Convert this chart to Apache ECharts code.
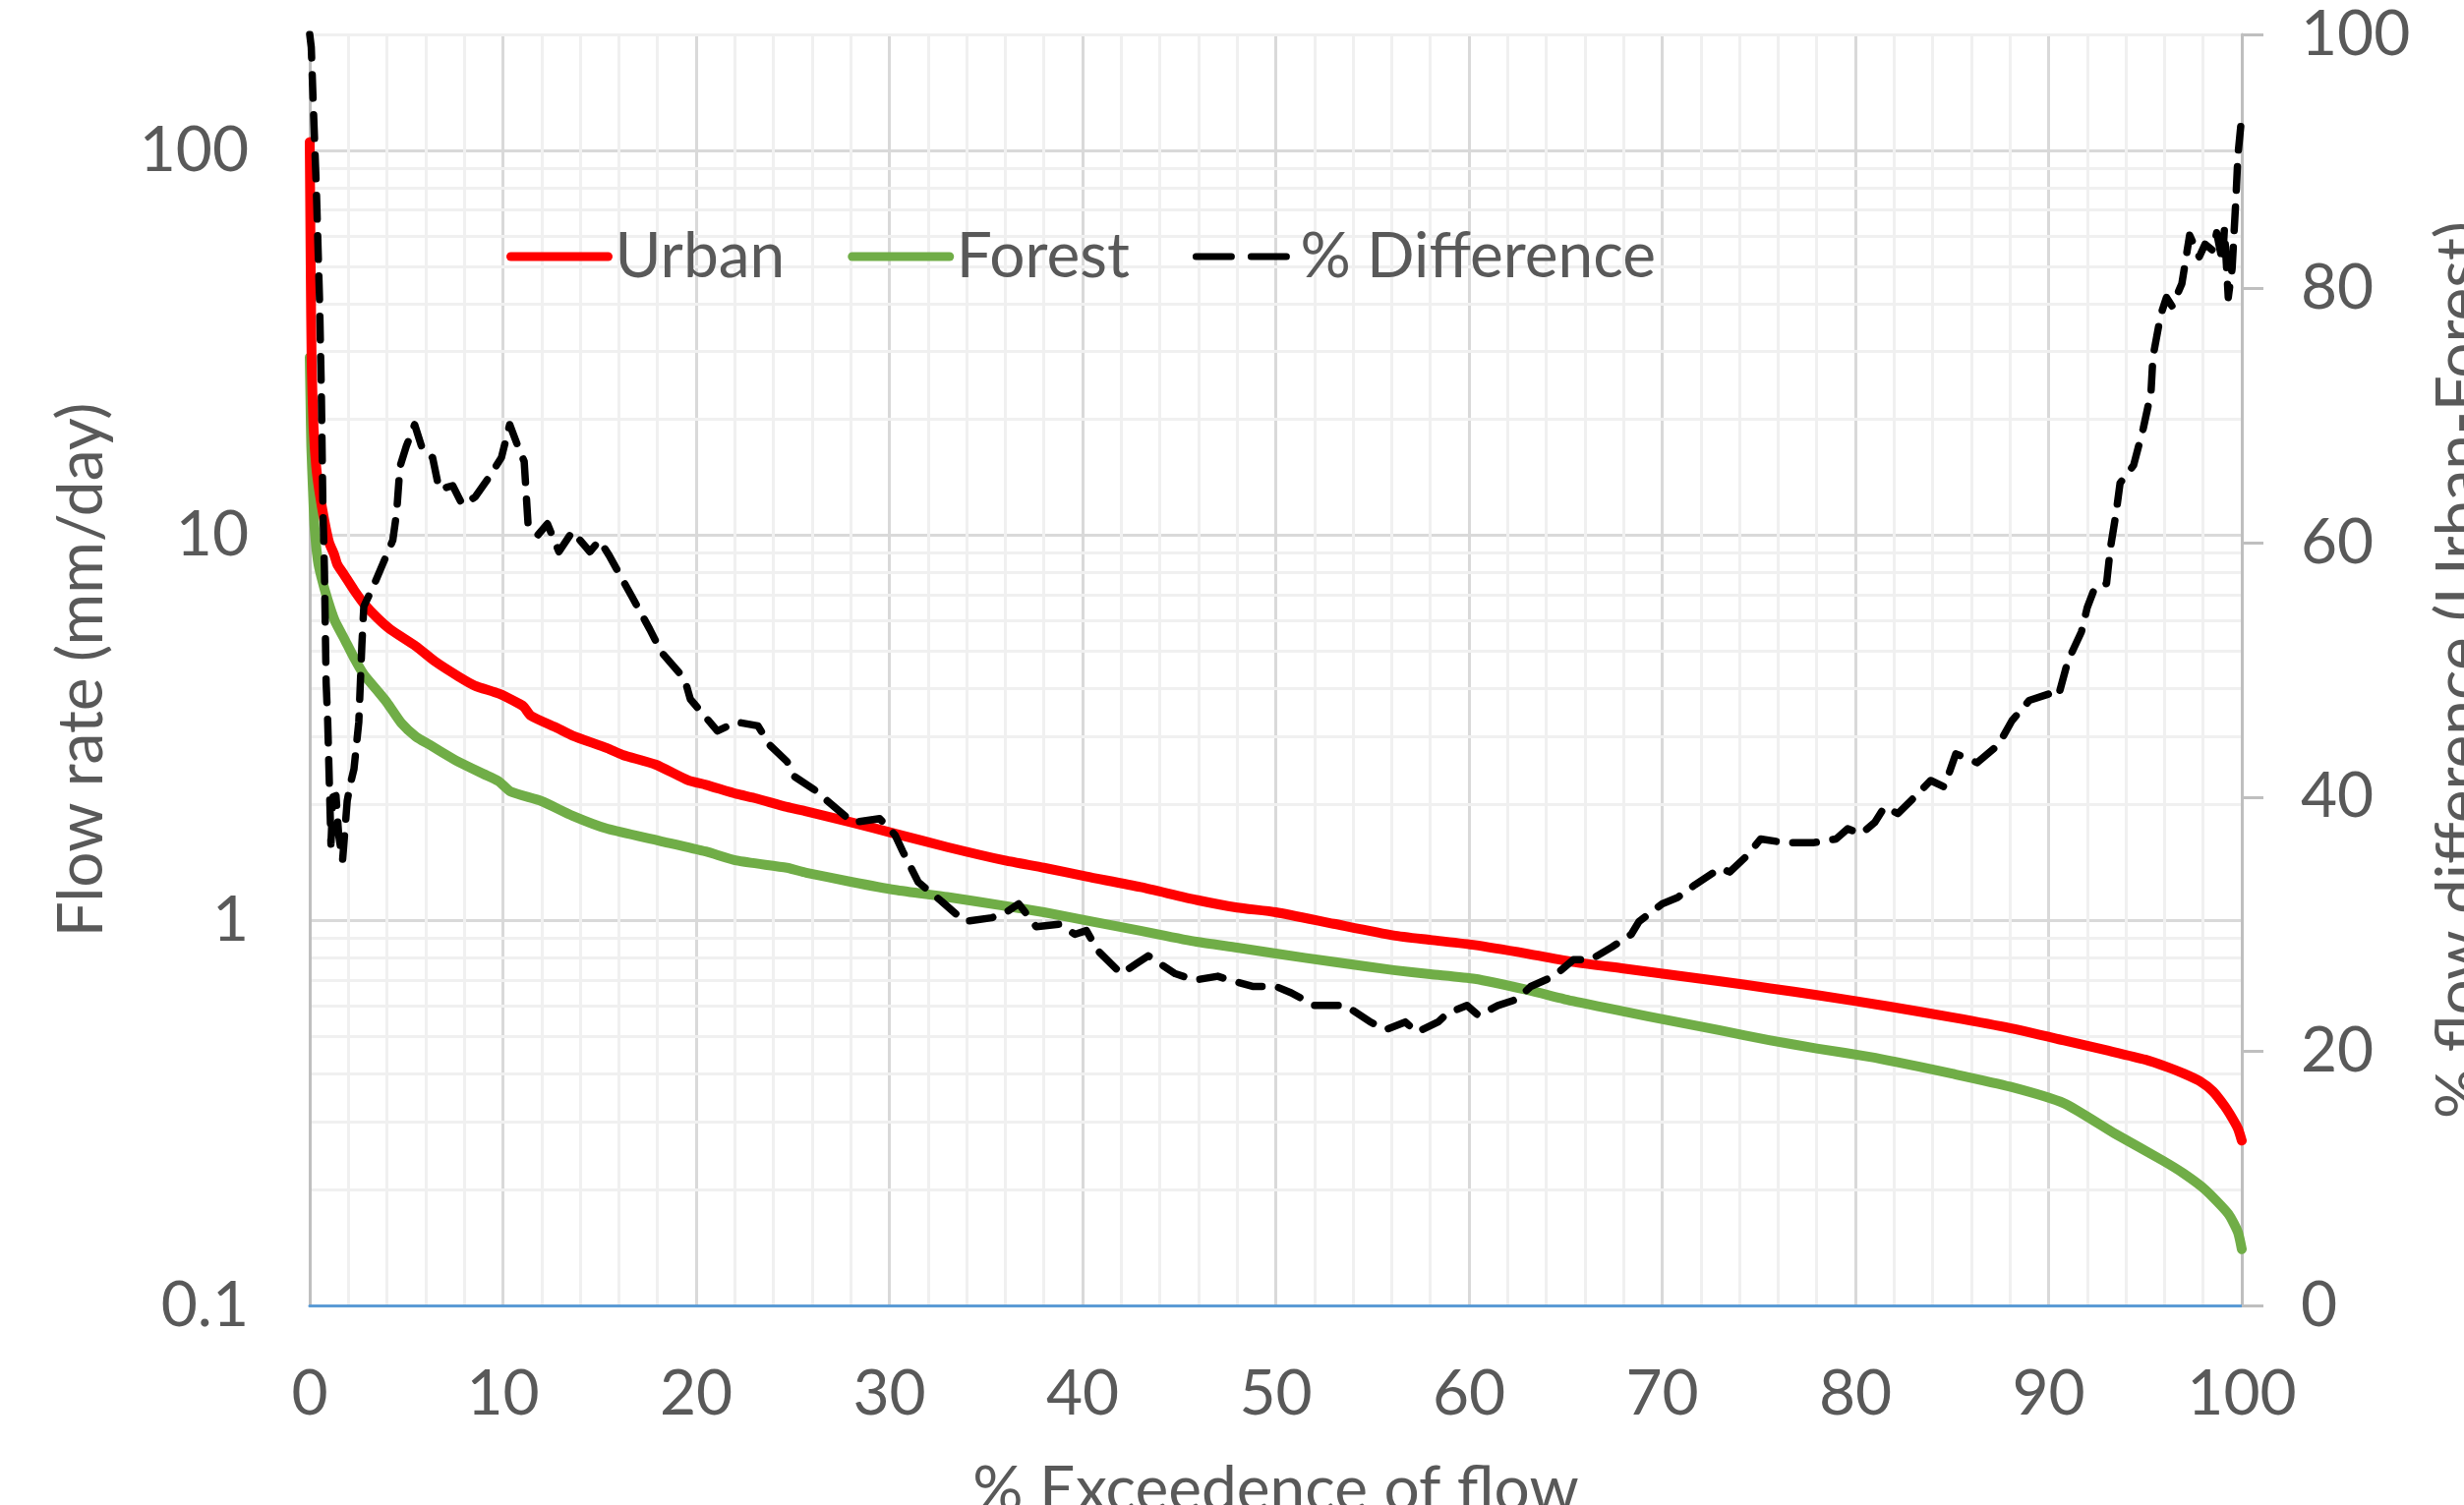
<!DOCTYPE html>
<html>
<head>
<meta charset="utf-8">
<script src="https://cdn.jsdelivr.net/npm/echarts@6/dist/echarts.min.js"></script>
<style>
  html, body { margin: 0; padding: 0; background: #ffffff; }
  #chart { width: 2506px; height: 1531px; }
</style>
</head>
<body>
<div id="chart"></div>
<script>
// ---------- data ----------
const seriesNames = ['Urban', 'Forest', '% Difference'];

// [% exceedence, flow mm/day]
const urban = [
  [0, 105], [0.05, 50], [0.1, 28], [0.2, 19], [0.34, 15], [0.5, 13], [0.76, 10.9], [1.0, 9.6],
  [1.27, 8.9], [1.43, 8.4], [1.78, 7.9], [2.3, 7.2], [2.8, 6.65], [3.5, 6.1], [4.17, 5.7],
  [5.5, 5.15], [6.5, 4.7], [7.7, 4.3], [8.55, 4.07], [9.8, 3.88], [10.9, 3.64], [11.1, 3.58],
  [11.45, 3.4], [12.8, 3.16], [13.6, 3.02], [15.4, 2.8], [16.2, 2.69], [17.9, 2.54], [19.6, 2.31],
  [20.5, 2.25], [22.1, 2.13], [23, 2.08], [24.7, 1.97], [25.7, 1.92], [28, 1.8], [30.3, 1.68],
  [33, 1.55], [36, 1.43], [38, 1.37], [40.2, 1.3], [43, 1.22], [45.9, 1.13], [48, 1.08], [50, 1.05],
  [53, 0.98], [56.1, 0.914], [58, 0.89], [60.3, 0.863], [63, 0.82], [65.4, 0.78], [68, 0.75],
  [70.5, 0.722], [73, 0.695], [75.6, 0.666], [78, 0.64], [81.7, 0.598], [85, 0.56], [88, 0.525],
  [90.8, 0.488], [93, 0.46], [95, 0.435], [96.2, 0.415], [97, 0.4], [97.8, 0.383], [98.5, 0.36],
  [99.1, 0.33], [99.5, 0.307], [99.8, 0.288], [100, 0.268]
];

const forest = [
  [0, 29], [0.04, 22], [0.08, 17], [0.17, 13], [0.25, 10.5], [0.42, 8.6], [0.6, 7.8], [0.93, 6.8],
  [1.3, 6.0], [1.78, 5.4], [2.3, 4.8], [2.8, 4.35], [3.5, 3.95], [4.0, 3.68], [4.75, 3.25],
  [5.5, 3.0], [6.2, 2.86], [7.4, 2.63], [7.7, 2.58], [9.0, 2.4], [9.77, 2.3], [10.4, 2.16],
  [12.0, 2.04], [13.6, 1.87], [15.4, 1.73], [18.1, 1.61], [20.5, 1.51], [22.1, 1.43], [24.7, 1.37],
  [25.7, 1.33], [28, 1.26], [30.3, 1.2], [33, 1.15], [36, 1.09], [38, 1.05], [40.2, 1.0], [43, 0.94],
  [45.9, 0.88], [48, 0.85], [50, 0.82], [53, 0.78], [56.1, 0.743], [58, 0.725], [60.3, 0.705],
  [63, 0.66], [65.4, 0.617], [68, 0.58], [70.5, 0.548], [73, 0.518], [75.6, 0.488], [78, 0.465],
  [80.9, 0.441], [82, 0.43], [85, 0.4], [88, 0.37], [90.8, 0.335], [93.4, 0.28], [95.9, 0.238],
  [97, 0.22], [98.1, 0.2], [99.3, 0.173], [99.8, 0.155], [100, 0.14]
];

// [% exceedence, % flow difference]
const difference = [
  [0, 100], [0.08, 99], [0.17, 95], [0.34, 88], [0.51, 79], [0.6, 72], [0.68, 63], [0.76, 58],
  [0.85, 49], [0.93, 46], [1.0, 42], [1.1, 36.3], [1.2, 40], [1.36, 40.1], [1.5, 37], [1.7, 35],
  [1.94, 39.7], [2.1, 41], [2.29, 42.2], [2.54, 45.9], [2.7, 52], [2.8, 55], [3.3, 56.6], [3.8, 58.4],
  [4.3, 60.2], [4.5, 62.4], [4.67, 66], [5.0, 67.6], [5.43, 69.3], [5.85, 67.3], [6.36, 66.7],
  [6.7, 64.2], [7.4, 64.5], [7.9, 63], [8.56, 63.6], [9.25, 65.1], [9.92, 66.7], [10.35, 69.3],
  [10.8, 67.5], [11.1, 66.4], [11.3, 61.5], [11.8, 60.6], [12.3, 61.5], [12.9, 59.3], [13.6, 60.9],
  [14.5, 59.3], [15.0, 60.2], [15.5, 59], [16.7, 55.7], [17.6, 53.2], [18.2, 51.4], [19.4, 49.3],
  [19.7, 47.7], [21.1, 45.2], [22.1, 45.9], [23.2, 45.6], [23.8, 44.1], [24.7, 42.8], [25.1, 41.6],
  [26.1, 40.6], [27.1, 39.3], [28.1, 38], [29.5, 38.3], [30.3, 37], [30.7, 35.7], [31.5, 33.3],
  [32.7, 31.8], [33.9, 30.2], [35.3, 30.5], [36.1, 31], [36.7, 31.6], [37.6, 29.8], [38.8, 30],
  [39.6, 29.2], [40.2, 29.5], [40.8, 27.9], [42.0, 26.1], [42.8, 26.9], [43.4, 27.5], [44.8, 26.1],
  [45.8, 25.6], [47.0, 25.9], [47.6, 25.6], [48.8, 25.1], [50.0, 25.1], [50.8, 24.6], [52.0, 23.6],
  [53.6, 23.6], [54.9, 22.3], [55.7, 21.7], [56.7, 22.3], [57.3, 21.5], [58.4, 22.3], [58.9, 23.0],
  [59.9, 23.6], [60.5, 22.8], [61.5, 23.6], [62.5, 24.1], [63.2, 25.1], [64.4, 25.9], [65.4, 27.2],
  [66.3, 27.2], [67.4, 28.2], [68.4, 29.2], [68.8, 30.2], [70.0, 31.6], [70.8, 32.1], [71.7, 33.1],
  [73.0, 34.4], [73.5, 34.1], [74.4, 35.4], [75.1, 36.7], [76.4, 36.4], [77.8, 36.4], [79.0, 36.7],
  [79.6, 37.5], [80.3, 37.1], [81.0, 38.0], [81.5, 39.2], [82.2, 38.7], [83.0, 39.9], [83.9, 41.3],
  [84.6, 40.8], [85.2, 43.4], [86.3, 42.7], [87.4, 44.1], [88.1, 46.0], [89.0, 47.6], [90.0, 48.1],
  [90.5, 47.9], [91.0, 50.7], [91.7, 53.0], [92.0, 54.9], [92.4, 56.5], [93.0, 56.8], [93.2, 59.6],
  [93.5, 62.4], [93.7, 64.7], [94.4, 66.1], [94.9, 69.0], [95.3, 71.8], [95.4, 74.6], [95.8, 77.9],
  [96.1, 79.3], [96.4, 78.6], [96.9, 80.4], [97.3, 84.2], [97.8, 82.5], [98.1, 83.5], [98.5, 83.0],
  [98.7, 84.4], [99.0, 82.1], [99.1, 84.7], [99.3, 79.3], [99.5, 81.6], [99.7, 87.2], [99.8, 90.5],
  [100, 93.6]
];

// axis values
const xTicks = { min: 0, max: 100, interval: 10 };
const flowAxis = { min: 0.1, max: 200 };
const diffAxis = { min: 0, max: 100, interval: 20 };
const flowMinorGrid = [0.2, 0.3, 0.4, 0.5, 0.6, 0.7, 0.8, 0.9, 2, 3, 4, 5, 6, 7, 8, 9,
  20, 30, 40, 50, 60, 70, 80, 90, 200];

// ---------- chart ----------
const FONT = 'Lato';
const FS = 64;
const LABEL = '#595959';
const RED = '#FF0000', GREEN = '#70AD47', BLACK = '#000000';
const DASH = [24, 17];

const chart = echarts.init(document.getElementById('chart'), null, { renderer: 'canvas' });

chart.setOption({
  animation: false,
  backgroundColor: '#ffffff',
  textStyle: { fontFamily: FONT },
  grid: { left: 315, right: 226, top: 35, bottom: 203, containLabel: false, outerBoundsMode: 'none' },
  legend: {
    data: [
      { name: seriesNames[0], lineStyle: { color: RED, width: 9, type: 'solid', cap: 'round' } },
      { name: seriesNames[1], lineStyle: { color: GREEN, width: 9, type: 'solid', cap: 'round' } },
      { name: seriesNames[2], lineStyle: { color: BLACK, width: 7, type: [36, 20], cap: 'round' } }
    ],
    left: 510,
    top: 224,
    z: 10,
    itemWidth: 99,
    itemHeight: 20,
    itemGap: 64,
    textStyle: { fontFamily: FONT, fontSize: FS, color: LABEL, padding: [0, 0, 0, 2] },
    itemStyle: { opacity: 0 }
  },
  xAxis: {
    type: 'value',
    min: xTicks.min, max: xTicks.max, interval: xTicks.interval,
    name: '% Exceedence of flow',
    nameLocation: 'middle',
    nameGap: 156,
    nameTextStyle: { fontFamily: FONT, fontSize: FS, color: LABEL, verticalAlign: 'top' },
    axisLine: { show: true, onZero: false, lineStyle: { color: '#5B9BD5', width: 3 } },
    axisTick: { show: false },
    axisLabel: { fontFamily: FONT, fontSize: FS, color: LABEL, margin: 58 },
    splitLine: { show: true, lineStyle: { color: '#D9D9D9', width: 3 } },
    minorTick: { show: false, splitNumber: 5 },
    minorSplitLine: { show: true, lineStyle: { color: '#F0F0F0', width: 3 } }
  },
  yAxis: [
    {
      type: 'log',
      logBase: 10,
      min: flowAxis.min, max: flowAxis.max,
      position: 'left',
      name: 'Flow rate (mm/day)',
      nameLocation: 'middle',
      nameRotate: 90,
      nameGap: 200,
      nameTextStyle: { fontFamily: FONT, fontSize: FS, color: LABEL },
      axisLine: { show: true, lineStyle: { color: '#BFBFBF', width: 3 } },
      axisTick: { show: false },
      axisLabel: { fontFamily: FONT, fontSize: FS, color: LABEL, margin: 62, showMaxLabel: false },
      splitLine: { show: true, lineStyle: { color: '#D9D9D9', width: 3 } }
    },
    {
      type: 'value',
      min: diffAxis.min, max: diffAxis.max, interval: diffAxis.interval,
      position: 'right',
      name: '% flow difference (Urban-Forest)',
      nameLocation: 'middle',
      nameRotate: 90,
      nameGap: 190,
      nameTextStyle: { fontFamily: FONT, fontSize: FS, color: LABEL },
      axisLine: { show: true, lineStyle: { color: '#BFBFBF', width: 3 } },
      axisTick: { show: true, inside: false, length: 22, lineStyle: { color: '#BFBFBF', width: 3 } },
      axisLabel: { fontFamily: FONT, fontSize: FS, color: LABEL, margin: 60 },
      splitLine: { show: false }
    }
  ],
  series: [
    {
      name: 'minor-grid',
      type: 'line',
      xAxisIndex: 0,
      yAxisIndex: 0,
      data: [],
      silent: true,
      z: 0,
      markLine: {
        silent: true,
        z: 0,
        symbol: ['none', 'none'],
        label: { show: false },
        lineStyle: { color: '#F0F0F0', width: 3, type: 'solid' },
        emphasis: { disabled: true },
        animation: false,
        data: flowMinorGrid.map(v => ({ yAxis: v }))
      }
    },
    {
      name: 'Urban',
      type: 'line',
      yAxisIndex: 0,
      data: urban,
      symbol: 'none',
      smooth: 0.2,
      z: 4,
      lineStyle: { color: RED, width: 10, cap: 'round', join: 'round' },
      itemStyle: { color: RED }
    },
    {
      name: 'Forest',
      type: 'line',
      yAxisIndex: 0,
      data: forest,
      symbol: 'none',
      smooth: 0.2,
      z: 3,
      lineStyle: { color: GREEN, width: 10, cap: 'round', join: 'round' },
      itemStyle: { color: GREEN }
    },
    {
      name: '% Difference',
      type: 'line',
      yAxisIndex: 1,
      data: difference,
      symbol: 'none',
      z: 5,
      lineStyle: { color: BLACK, width: 7.5, type: DASH, cap: 'round', join: 'round' },
      itemStyle: { color: BLACK }
    }
  ]
});
</script>
</body>
</html>
